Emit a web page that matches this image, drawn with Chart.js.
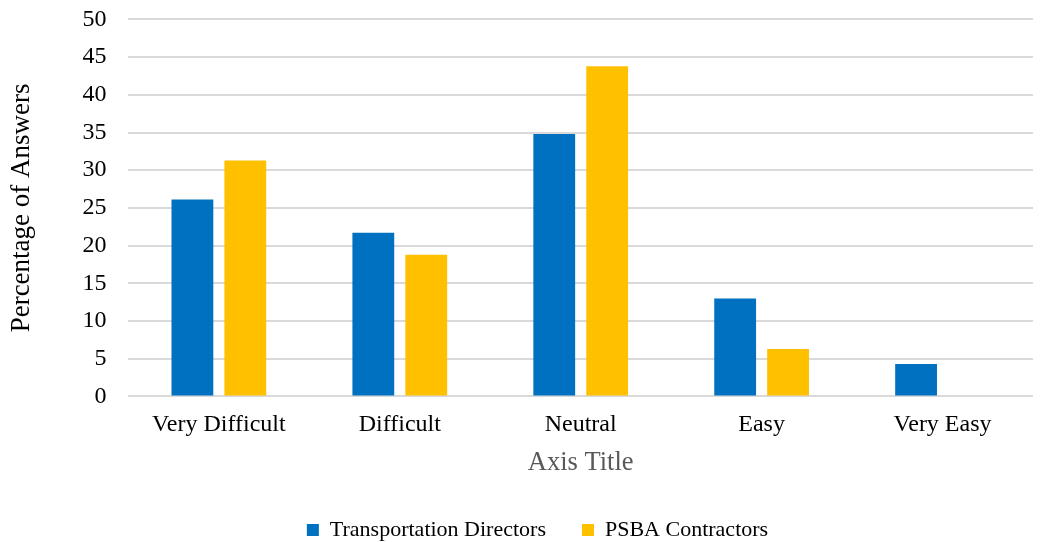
<!DOCTYPE html>
<html>
<head>
<meta charset="utf-8">
<script src="https://cdn.jsdelivr.net/npm/chart.js@4"></script>
<style>
  html, body { margin: 0; padding: 0; background: #fff; overflow: hidden; }
  #wrap { width: 1047px; height: 542px; overflow: hidden; }
  #chart { display: block; margin-top: -17px; }
</style>
</head>
<body>
<div id="wrap"><canvas id="chart" width="1047" height="559"></canvas></div>
<script>
const categories = ['Very Difficult', 'Difficult', 'Neutral', 'Easy', 'Very Easy'];
const transportDirectors = [26.1, 21.7, 34.8, 13.0, 4.3];
const psbaContractors = [31.3, 18.8, 43.8, 6.3, 0];
const yTicks = [0, 5, 10, 15, 20, 25, 30, 35, 40, 45, 50];

const serif = "'Liberation Serif', 'Times New Roman', serif";

// nudge the legend a bit to the right, as in the original
const legendShift = {
    id: 'legendShift',
    afterLayout(chart) {
        chart.legend.left += 18;
        chart.legend.right += 18;
    }
};

new Chart(document.getElementById('chart'), {
    type: 'bar',
    data: {
        labels: categories,
        datasets: [{
            label: 'Transportation Directors',
            data: transportDirectors,
            backgroundColor: '#0070C0'
        }, {
            label: 'PSBA Contractors',
            data: psbaContractors,
            backgroundColor: '#FFC000'
        }]
    },
    options: {
        responsive: false,
        animation: false,
        maintainAspectRatio: false,
        layout: { padding: { top: 0, right: 14, left: 6, bottom: -9 } },
        datasets: {
            bar: { categoryPercentage: 0.585, barPercentage: 0.79 }
        },
        plugins: {
            legend: {
                position: 'bottom',
                labels: {
                    font: { family: serif, size: 22 },
                    color: '#000',
                    boxWidth: 12,
                    boxHeight: 12,
                    padding: 36
                }
            },
            tooltip: { enabled: false }
        },
        scales: {
            x: {
                grid: { display: false },
                border: { display: false },
                ticks: { font: { family: serif, size: 24 }, color: '#000', padding: 6 },
                title: {
                    display: true,
                    text: 'Axis Title',
                    font: { family: serif, size: 26.5 },
                    color: '#595959',
                    padding: { top: 2, bottom: 4 }
                }
            },
            y: {
                min: 0,
                max: 50,
                afterBuildTicks: axis => { axis.ticks = yTicks.map(v => ({ value: v })); },
                grid: { color: '#d9d9d9', lineWidth: 2, drawTicks: false },
                border: { display: false },
                ticks: { font: { family: serif, size: 24 }, color: '#000', padding: 22 },
                title: {
                    display: true,
                    text: 'Percentage of Answers',
                    font: { family: serif, size: 27 },
                    color: '#000',
                    padding: { top: 0, bottom: 22 }
                }
            }
        }
    },
    plugins: [legendShift]
});
</script>
</body>
</html>
